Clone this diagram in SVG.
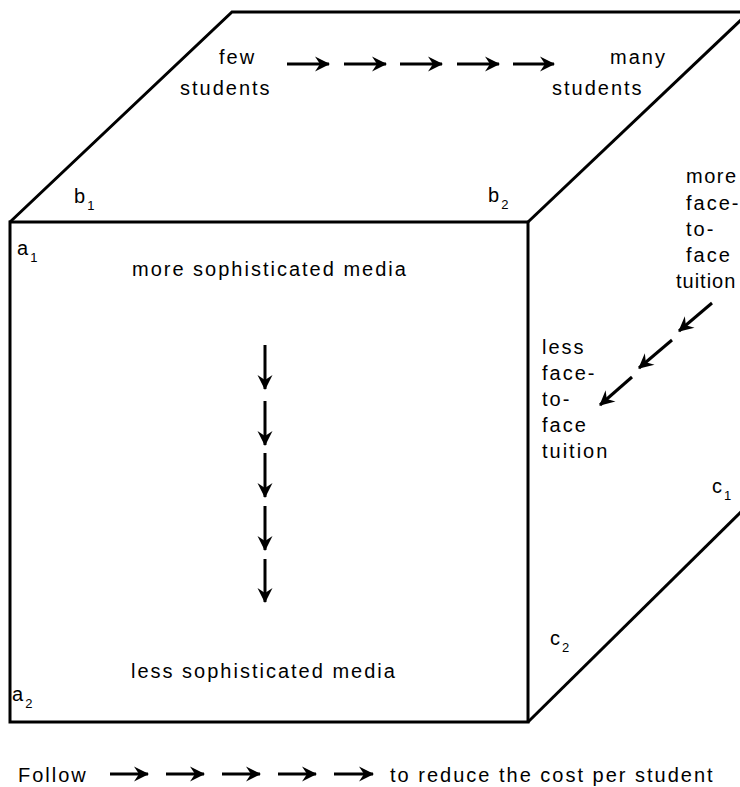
<svg xmlns="http://www.w3.org/2000/svg" width="740" height="787" viewBox="0 0 740 787">
<style>
.t{font-family:"Liberation Sans",Arial,sans-serif;font-size:20px;letter-spacing:2px;fill:#000}
.s{font-size:13px;letter-spacing:0}
.edge{stroke:#000;stroke-width:3;fill:none;stroke-linejoin:miter}
.ar{stroke:#000;stroke-width:3;fill:none;marker-end:url(#head)}
</style>
<defs>
<marker id="head" markerUnits="userSpaceOnUse" viewBox="-16 -9 18 18" refX="0" refY="0" markerWidth="18" markerHeight="18" orient="auto">
<path d="M1,0 L-14,-7.5 L-9,0 L-14,7.5 Z" fill="#000"/>
</marker>
</defs>
<rect width="740" height="787" fill="#fff"/>
<g id="cube">
<polyline class="edge" points="10,222 232,12 740,12"/>
<line class="edge" x1="528" y1="222" x2="742" y2="19"/>
<rect class="edge" x="10" y="222" width="518" height="500"/>
<line class="edge" x1="528" y1="722" x2="742" y2="511"/>
</g>
<g id="corner-labels">
<text class="t" x="74" y="203">b<tspan class="s" dy="7">1</tspan></text>
<text class="t" x="488" y="202">b<tspan class="s" dy="7">2</tspan></text>
<text class="t" x="17" y="255">a<tspan class="s" dy="7">1</tspan></text>
<text class="t" x="12" y="701">a<tspan class="s" dy="7">2</tspan></text>
<text class="t" x="712" y="493">c<tspan class="s" dy="7">1</tspan></text>
<text class="t" x="550" y="645">c<tspan class="s" dy="7">2</tspan></text>
</g>
<g id="top-face">
<text class="t" x="219" y="64">few</text>
<text class="t" x="180" y="95">students</text>
<text class="t" x="610" y="64">many</text>
<text class="t" x="552" y="95">students</text>
</g>
<g id="front-face">
<text class="t" x="132" y="276">more sophisticated media</text>
<text class="t" x="131" y="678">less sophisticated media</text>
</g>
<g id="side-face">
<text class="t" x="686" y="183" style="letter-spacing:1.5px">more</text>
<text class="t" x="686" y="210">face-</text>
<text class="t" x="686" y="236">to-</text>
<text class="t" x="686" y="262">face</text>
<text class="t" x="676" y="288" style="letter-spacing:1px">tuition</text>
<text class="t" x="542" y="354">less</text>
<text class="t" x="542" y="380">face-</text>
<text class="t" x="542" y="406">to-</text>
<text class="t" x="542" y="432">face</text>
<text class="t" x="542" y="458">tuition</text>
</g>
<g id="legend">
<text class="t" x="18" y="782">Follow</text>
<text class="t" x="390" y="782">to reduce the cost per student</text>
</g>
<g id="connectors">
<line class="ar" x1="287" y1="64" x2="329" y2="64"/>
<line class="ar" x1="344" y1="64" x2="386" y2="64"/>
<line class="ar" x1="400" y1="64" x2="442" y2="64"/>
<line class="ar" x1="457" y1="64" x2="499" y2="64"/>
<line class="ar" x1="513" y1="64" x2="554" y2="64"/>
<line class="ar" x1="265" y1="345" x2="265" y2="389"/>
<line class="ar" x1="265" y1="401" x2="265" y2="445"/>
<line class="ar" x1="265" y1="453" x2="265" y2="497"/>
<line class="ar" x1="265" y1="506" x2="265" y2="550"/>
<line class="ar" x1="265" y1="559" x2="265" y2="602"/>
<line class="ar" x1="712" y1="303" x2="679" y2="331"/>
<line class="ar" x1="672" y1="340" x2="639" y2="368"/>
<line class="ar" x1="632" y1="377" x2="600" y2="405"/>
<line class="ar" x1="110" y1="774" x2="148" y2="774"/>
<line class="ar" x1="166" y1="774" x2="204" y2="774"/>
<line class="ar" x1="222" y1="774" x2="260" y2="774"/>
<line class="ar" x1="278" y1="774" x2="316" y2="774"/>
<line class="ar" x1="334" y1="774" x2="373" y2="774"/>
</g>
</svg>
